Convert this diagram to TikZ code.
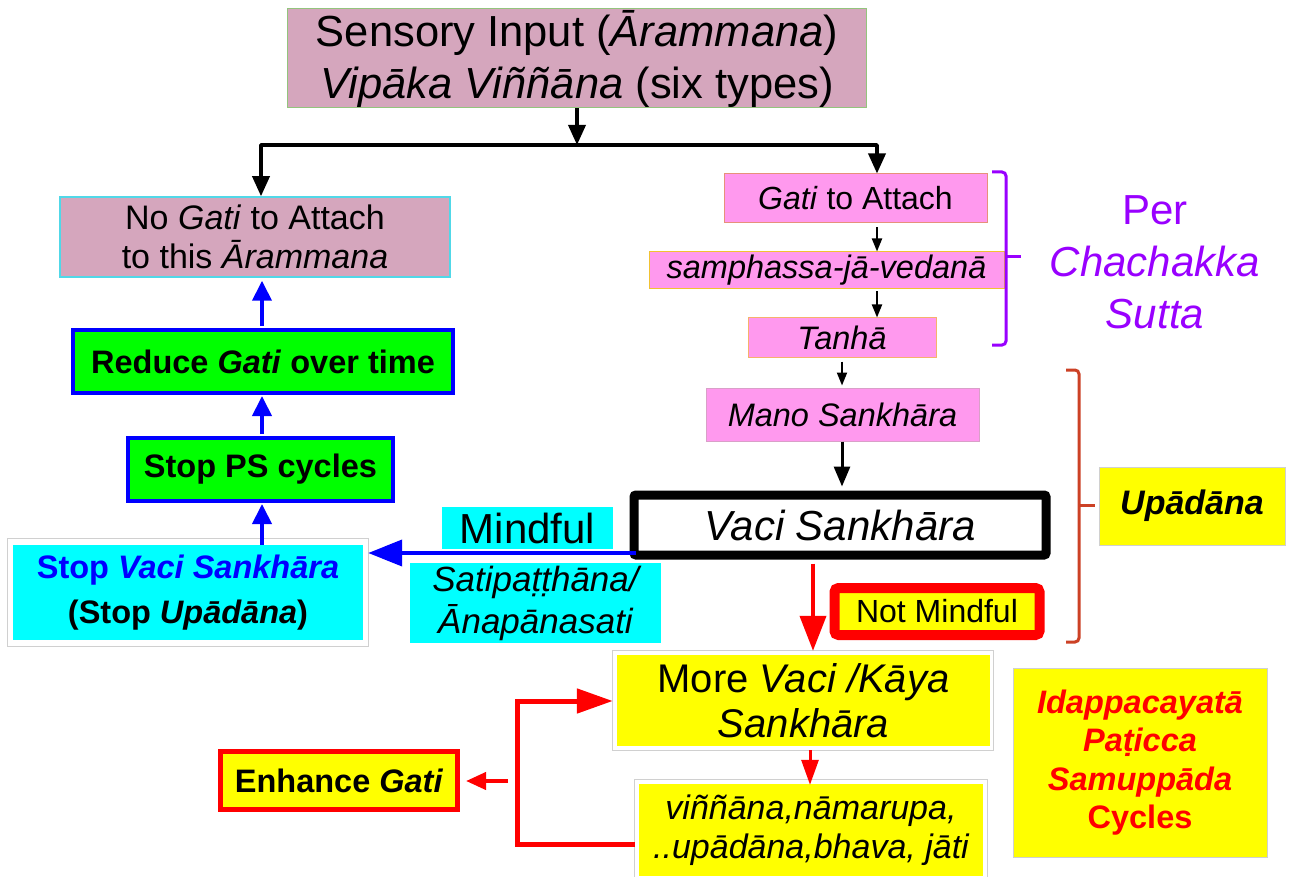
\documentclass[tikz,border=0pt]{standalone}
\usepackage{fontspec}
\setmainfont{Liberation Sans}
\usetikzlibrary{arrows.meta,calc}
\definecolor{mauve}{HTML}{D5A6BD}
\definecolor{pinkb}{HTML}{FF99EE}
\definecolor{cyanb}{HTML}{00FFFF}
\definecolor{yel}{HTML}{FFFF00}
\definecolor{grn}{HTML}{00FF00}
\definecolor{blu}{HTML}{0000FF}
\definecolor{rd}{HTML}{FF0000}
\definecolor{purp}{HTML}{9900FF}
\definecolor{brk}{HTML}{CC4125}
\definecolor{framegray}{HTML}{D0D0D0}
\newcommand\fsz[2]{\fontsize{#1pt}{#2pt}\selectfont}
\begin{document}
\begin{tikzpicture}[x=1pt,y=-1pt,
  box/.style={rectangle, inner sep=0pt, align=center},
  wh/.style 2 args={minimum width=#1pt, minimum height=#2pt},
  pinkbox/.style={box, fill=pinkb, line width=1pt, font=\fsz{32}{38}},
  greenbox/.style={box, fill=grn, draw=blu, line width=4pt, font=\fsz{32.5}{38}\bfseries},
  cyanlab/.style={box, fill=cyanb},
  bk/.style={line width=3.5pt, line join=round},
  bkhead/.style={-{Triangle[length=20pt,width=17pt]}},
  smallbk/.style={line width=2pt, -{Triangle[length=13pt,width=10pt]}},
  bl/.style={blu, line width=4pt, -{Triangle[length=20pt,width=19pt]}},
  rdl/.style={rd, line width=4pt}
]
\useasboundingbox[fill=white] (0,0) rectangle (1293,877);

% top box
\node[box, fill=mauve, draw={rgb,255:red,147;green,196;blue,125}, line width=1pt, wh={579}{99}, font=\fsz{43.5}{52}] (top) at (577,58.5)
  {Sensory Input (\textit{Ārammana})\\\textit{Vipāka Viññāna} (six types)};

% left column
\node[box, fill=mauve, draw={rgb,255:red,80;green,216;blue,232}, line width=1.5pt, wh={390}{80}, font=\fsz{34}{39}] (noGati) at (255,237)
  {No \textit{Gati} to Attach\\to this \textit{Ārammana}};
\node[greenbox, wh={380}{63}] (reduce) at (263,361.5) {Reduce \textit{Gati} over time};
\node[greenbox, wh={265}{63}] (stopPS) at (260.5,469.5) {Stop PS cycles};
\node[box, fill=cyanb, wh={350}{95}, font=\fsz{32.5}{45}\bfseries] (stopVaci) at (188,592.5)
  {\textcolor{blu}{Stop \textit{Vaci Sankhāra}}\\(Stop \textit{Upādāna})};
\draw[framegray, line width=1pt] ([shift={(-5pt,-6pt)}]stopVaci.south west) rectangle ([shift={(5pt,6pt)}]stopVaci.north east);

% middle labels
\node[cyanlab, wh={171}{42}, font=\fsz{42}{48}] (mindful) at (527.5,528) {Mindful};
\node[cyanlab, wh={251}{80}, font=\fsz{35}{42}\itshape] (sati) at (535.5,603) {Satipaṭṭhāna/\\Ānapānasati};

% right chain
\node[pinkbox, draw={rgb,255:red,230;green,145;blue,122}, wh={263}{49}] (gati) at (855.5,198.5) {\textit{Gati} to Attach};
\node[pinkbox, draw={rgb,255:red,241;green,194;blue,50}, wh={355}{37}, font=\fsz{32.5}{38}\itshape] (samph) at (826.5,270.5) {samphassa-jā-vedanā};
\node[pinkbox, draw={rgb,255:red,246;green,178;blue,107}, wh={188}{39}, font=\fsz{32.5}{38}\itshape] (tanha) at (842,337.5) {Tanhā};
\node[pinkbox, draw={rgb,255:red,217;green,160;blue,200}, wh={273}{53}, font=\fsz{32.5}{38}\itshape] (mano) at (842.5,414.5) {Mano Sankhāra};
\node[box, fill=white, draw=black, line width=9pt, rounded corners=2pt, wh={412}{60}, font=\fsz{42}{48}\itshape] (vaci) at (840,525) {Vaci Sankhāra};
\node[box, fill=yel, draw=rd, line width=10pt, rounded corners=4pt, wh={205}{47}, font=\fsz{32}{38}] (notMind) at (937,611.5) {Not Mindful};

% brackets and side labels
\node[box, font=\fsz{42}{52}, text=purp] (per) at (1155,262) {Per\\\textit{Chachakka}\\\textit{Sutta}};
\draw[purp, line width=3pt, rounded corners=4pt] (992,172) -- (1006,172) -- (1006,345) -- (992,345);
\draw[purp, line width=3pt] (1006,257) -- (1021,257);
\draw[brk, line width=3pt, rounded corners=4pt] (1066,370) -- (1079,370) -- (1079,642) -- (1066,642);
\draw[brk, line width=3pt] (1079,505) -- (1095,505);
\node[box, fill=yel, draw=framegray, line width=0.8pt, wh={186}{78}, font=\fsz{34}{40}\bfseries\itshape] (upad) at (1192,506) {Upādāna};

% bottom
\node[box, fill=yel, wh={373}{91}, font=\fsz{40}{45}] (more) at (803.5,700.5) {More \textit{Vaci /Kāya}\\\textit{Sankhāra}};
\draw[framegray, line width=1pt] ([shift={(-4pt,-4pt)}]more.south west) rectangle ([shift={(3pt,4pt)}]more.north east);
\node[box, fill=yel, wh={344}{92}, font=\fsz{34}{39}\itshape] (vinn) at (811,830) {viññāna,nāmarupa,\\..upādāna,bhava, jāti};
\draw[framegray, line width=1pt] ([shift={(-4pt,-4pt)}]vinn.south west) rectangle ([shift={(4pt,4pt)}]vinn.north east);
\node[box, fill=yel, draw=rd, line width=5pt, wh={237}{58}, font=\fsz{32.5}{38}\bfseries] (enh) at (339,780.5) {Enhance \textit{Gati}};
\node[box, fill=yel, draw=framegray, line width=0.8pt, wh={254}{189}, font=\fsz{32.5}{38.5}\bfseries, text=rd] (idap) at (1140,762.5)
  {\textit{Idappacayatā}\\\textit{Paṭicca}\\\textit{Samuppāda}\\Cycles};

% connectors: top split
\coordinate (split) at (577,145);
\coordinate (brL) at (261,145);
\coordinate (brR) at (877,145);
\draw[bk, bkhead] (top.south -| split) -- (split);
\draw[bk, {Triangle[length=20pt,width=17pt]}-{Triangle[length=20pt,width=17pt]}] (brL |- noGati.north) -- (brL) -- (brR) -- (brR |- gati.north);

% right chain arrows
\coordinate (cx1) at (877,0);
\coordinate (cx2) at (842,0);
\draw[smallbk] ([yshift=-4pt]gati.south -| cx1) -- (samph.north -| cx1);
\draw[smallbk] ([yshift=-2pt]samph.south -| cx1) -- (tanha.north -| cx1);
\draw[smallbk] ([yshift=-4pt]tanha.south -| cx2) -- ([yshift=2pt]mano.north -| cx2);
\draw[line width=3pt, -{Triangle[length=20pt,width=16pt]}] (mano.south -| cx2) -- ([yshift=4pt]vaci.north -| cx2);

% left column arrows
\coordinate (lx) at (262,0);
\draw[bl] ([yshift=2pt]reduce.north -| lx) -- ([yshift=-3pt]noGati.south -| lx);
\draw[bl] ([yshift=2pt]stopPS.north -| lx) -- ([yshift=-1pt]reduce.south -| lx);
\draw[bl] (stopVaci.north -| lx) -- ([yshift=-1pt]stopPS.south -| lx);

% mindful arrow
\coordinate (mS) at (636,553);
\draw[blu, line width=4pt, -{Triangle[length=34pt,width=26pt]}] (mS) -- ([xshift=5pt]mS -| stopVaci.east);

% red arrows
\coordinate (rv) at (813,0);
\draw[rdl, -{Triangle[length=35pt,width=26pt]}] ([yshift=-4pt]vaci.south -| rv) -- ([yshift=4pt]more.north -| rv);
\coordinate (rv2) at (810,0);
\draw[rd, line width=3pt, -{Triangle[length=25pt,width=17pt]}] ([yshift=-4pt]more.south -| rv2) -- ([yshift=-1pt]vinn.north -| rv2);
\coordinate (lpA) at (517,844);
\coordinate (lpB) at (517,701);
\draw[rd, line width=5pt, line join=miter, -{Triangle[length=36pt,width=24pt]}] ([xshift=-4pt]lpA -| vinn.west) -- (lpA) -- (lpB) -- ([xshift=-4pt]lpB -| more.west);
\coordinate (enS) at (508,781);
\draw[rdl, -{Triangle[length=20pt,width=17pt]}] (enS) -- ([xshift=6pt]enS -| enh.east);
\end{tikzpicture}
\end{document}
